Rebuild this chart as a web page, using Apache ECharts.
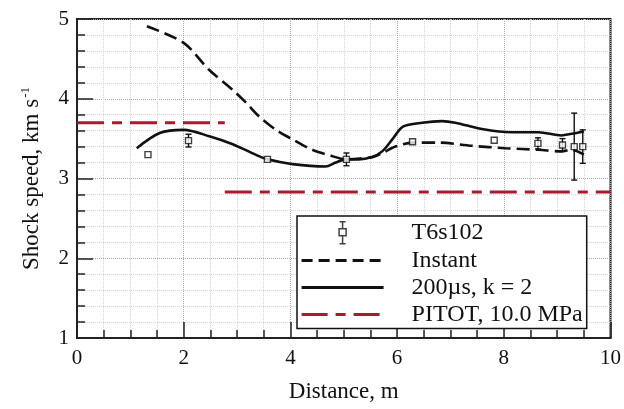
<!DOCTYPE html>
<html>
<head>
<meta charset="utf-8">
<script src="https://cdn.jsdelivr.net/npm/echarts@6/dist/echarts.min.js"></script>
<style>
  html, body { margin: 0; padding: 0; background: #fff; }
  #chart { width: 624px; height: 409px; }
</style>
</head>
<body>
<div id="chart"></div>
<script>
// Measured shock speeds (T6s102) with their uncertainty
const pointDist  = [1.33, 2.09, 3.57, 5.05, 6.29, 7.82, 8.64, 9.10, 9.32, 9.48];
const pointSpeed = [3.30, 3.475, 3.24, 3.24, 3.46, 3.48, 3.44, 3.42, 3.40, 3.40];
const pointErr   = [0, 0.08, 0, 0.08, 0, 0, 0.07, 0.08, 0.42, 0.21];

// Simulation: instantaneous diaphragm rupture
const instantDist  = [1.31, 2.0, 2.48, 2.92, 3.17, 3.41, 3.73, 4.04, 4.41, 4.79, 5.03, 5.3, 5.55, 5.7, 5.97, 6.29, 6.78, 7.40, 8.03, 8.65, 9.08, 9.27, 9.50];
const instantSpeed = [4.91, 4.70, 4.36, 4.11, 3.95, 3.78, 3.61, 3.49, 3.36, 3.28, 3.24, 3.25, 3.27, 3.31, 3.40, 3.45, 3.45, 3.41, 3.38, 3.36, 3.34, 3.36, 3.30];

// Simulation: 200 µs opening time, k = 2
const delayDist  = [1.12, 1.55, 2.0, 2.48, 2.92, 3.41, 3.57, 4.04, 4.66, 4.85, 5.03, 5.28, 5.53, 5.72, 5.91, 6.11, 6.47, 6.84, 7.09, 7.59, 8.15, 8.65, 9.08, 9.27, 9.50];
const delaySpeed = [3.38, 3.57, 3.61, 3.53, 3.43, 3.28, 3.24, 3.18, 3.15, 3.20, 3.24, 3.24, 3.27, 3.34, 3.49, 3.65, 3.70, 3.72, 3.70, 3.62, 3.58, 3.58, 3.54, 3.56, 3.59];

// PITOT estimates: two constant-speed segments
const pitotDist  = [0, 2.77, 2.77, 2.77, 10];
const pitotSpeed = [3.70, 3.70, '-', 2.83, 2.83];

const xTicks = { min: 0, max: 10, step: 2 };
const yTicks = { min: 1, max: 5, step: 1 };

const seriesNames = ['T6s102', 'Instant', '200\u00b5s, k = 2', 'PITOT, 10.0 MPa'];

const FONT = 'Liberation Serif';
const pair = (xs, ys) => xs.map((x, i) => [x, ys[i]]);
// line-only legend entries: hide the marker that line series add to their icon
const noMarker = { opacity: 0 };

const chart = echarts.init(document.getElementById('chart'), null, { renderer: 'canvas' });

chart.setOption({
  animation: false,
  backgroundColor: '#fff',
  grid: {
    left: 77, right: 12, top: 19, bottom: 71,
    show: true, borderColor: '#222', borderWidth: 2, backgroundColor: 'transparent'
  },
  xAxis: {
    type: 'value',
    min: xTicks.min, max: xTicks.max, interval: xTicks.step,
    name: 'Distance, m',
    nameLocation: 'middle',
    nameGap: 42,
    nameTextStyle: { fontFamily: FONT, fontSize: 23, color: '#111' },
    axisLine: { show: true, lineStyle: { color: '#222', width: 2 } },
    axisTick: { show: true, inside: true, length: 16, lineStyle: { color: '#222', width: 1.5 } },
    minorTick: { show: true, splitNumber: 4, length: 8, lineStyle: { color: '#222', width: 1.5 } },
    axisLabel: { fontFamily: FONT, fontSize: 21, color: '#111', margin: 10 },
    splitLine: { show: true, lineStyle: { color: '#aaa', type: 'dotted', width: 1 } },
    minorSplitLine: { show: true, lineStyle: { color: '#d4d4d4', type: 'dotted', width: 1 } }
  },
  yAxis: {
    type: 'value',
    min: yTicks.min, max: yTicks.max, interval: yTicks.step,
    name: '{a|Shock speed, km s}{b|-1}',
    nameLocation: 'middle',
    nameGap: 33,
    nameTextStyle: {
      fontFamily: FONT, fontSize: 23, color: '#111',
      rich: {
        a: { fontFamily: FONT, fontSize: 23, color: '#111' },
        b: { fontFamily: FONT, fontSize: 13, color: '#111', padding: [0, 0, 12, 1] }
      }
    },
    axisLine: { show: true, lineStyle: { color: '#222', width: 2 } },
    axisTick: { show: true, inside: true, length: 16, lineStyle: { color: '#222', width: 1.5 } },
    minorTick: { show: true, splitNumber: 5, length: 8, lineStyle: { color: '#222', width: 1.5 } },
    axisLabel: { fontFamily: FONT, fontSize: 21, color: '#111', margin: 8 },
    splitLine: { show: true, lineStyle: { color: '#aaa', type: 'dotted', width: 1 } },
    minorSplitLine: { show: true, lineStyle: { color: '#d4d4d4', type: 'dotted', width: 1 } }
  },
  legend: {
    orient: 'vertical',
    left: 297, top: 216,
    padding: [4, 4, 2, 3],
    itemWidth: 82, itemHeight: 24, itemGap: 3,
    backgroundColor: '#fff',
    borderColor: '#111', borderWidth: 1.5,
    selectedMode: false,
    textStyle: { fontFamily: FONT, fontSize: 24, lineHeight: 24, color: '#111', padding: [0, 0, 0, 23] },
    data: [
      {
        name: seriesNames[0],
        icon: 'path://M0,0 M82,24 M38,1 L44,1 M41,1 L41,8 M41,15 L41,23 M38,23 L44,23 M37.5,8 L44.5,8 L44.5,15 L37.5,15 Z',
        itemStyle: { color: '#fff', borderColor: '#111', borderWidth: 1.5 }
      },
      { name: seriesNames[1], itemStyle: noMarker, lineStyle: { width: 3, type: [11, 6] } },
      { name: seriesNames[2], itemStyle: noMarker, lineStyle: { width: 3 } },
      { name: seriesNames[3], itemStyle: noMarker, lineStyle: { width: 3.2, type: [26, 8, 10, 8] } }
    ]
  },
  series: [
    {
      name: seriesNames[3],
      type: 'line',
      data: pair(pitotDist, pitotSpeed),
      symbol: 'none',
      connectNulls: false,
      lineStyle: { color: '#a51c30', width: 3, type: [27, 8, 10, 8] },
      itemStyle: { color: '#a51c30' },
      z: 2
    },
    {
      name: seriesNames[1],
      type: 'line',
      data: pair(instantDist, instantSpeed),
      symbol: 'none',
      smooth: 0.3,
      lineStyle: { color: '#111', width: 2.6, type: [13, 6] },
      itemStyle: { color: '#111' },
      z: 3
    },
    {
      name: seriesNames[2],
      type: 'line',
      data: pair(delayDist, delaySpeed),
      symbol: 'none',
      smooth: 0.3,
      lineStyle: { color: '#111', width: 2.6 },
      itemStyle: { color: '#111' },
      z: 3
    },
    {
      name: 'T6s102 error',
      type: 'custom',
      data: pointDist.map((d, i) => [d, pointSpeed[i], pointErr[i]]),
      renderItem: function (params, api) {
        const x = api.value(0), y = api.value(1), e = api.value(2);
        if (!e) return null;
        const top = api.coord([x, y + e]);
        const bot = api.coord([x, y - e]);
        const w = 3;
        const st = { stroke: '#111', lineWidth: 1.4 };
        return {
          type: 'group',
          children: [
            { type: 'line', shape: { x1: top[0], y1: top[1], x2: bot[0], y2: bot[1] }, style: st },
            { type: 'line', shape: { x1: top[0] - w, y1: top[1], x2: top[0] + w, y2: top[1] }, style: st },
            { type: 'line', shape: { x1: bot[0] - w, y1: bot[1], x2: bot[0] + w, y2: bot[1] }, style: st }
          ]
        };
      },
      z: 4
    },
    {
      name: seriesNames[0],
      type: 'scatter',
      data: pair(pointDist, pointSpeed),
      symbol: 'rect',
      symbolSize: 6,
      itemStyle: { color: '#fff', borderColor: '#111', borderWidth: 1.4 },
      z: 5
    }
  ]
});
</script>
</body>
</html>
